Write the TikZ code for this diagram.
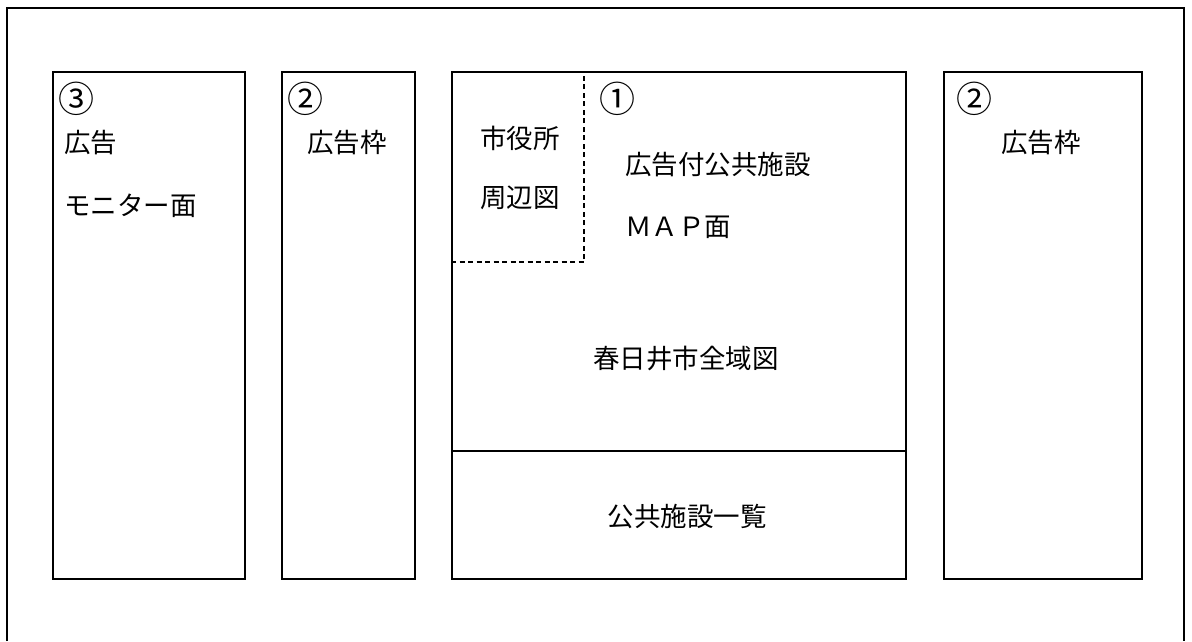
\documentclass[tikz,border=0pt]{standalone}
\usepackage{fontspec}
\newfontfamily\jpfont{Noto Sans CJK JP}
\tikzset{
  panel/.style={draw, line width=2pt, anchor=north west, inner sep=0pt},
  panellabel/.style={font=\jpfont\fontsize{26.5}{30}\selectfont, inner sep=0pt},
  numlabel/.style={font=\jpfont\fontsize{36}{40}\selectfont, inner sep=0pt, anchor=west},
  divline/.style={line width=2pt},
  insetline/.style={line width=1.8pt, dash pattern=on 5pt off 3.5pt}
}
\begin{document}
\begin{tikzpicture}[x=1pt, y=-1pt]
\useasboundingbox (0,0) rectangle (1192,641);

% outer frame, open at the bottom
\draw[line width=2pt] (7,641) -- (7,8) -- (1184,8) -- (1184,641);

% the four panels
\foreach \n/\xa/\w in {mon/52/192, adl/281/133, map/451/454, adr/943/198}
  \node[panel, minimum width=\w pt, minimum height=507pt, name=\n] at (\xa,71) {};

% map panel: list strip and city hall inset
\coordinate (div) at (451,451);
\draw[divline] (div) -- (div -| map.east);
\coordinate (inset) at (584,262);
\draw[insetline] (map.west |- inset) -- (inset) -- (inset |- map.north);

% texts
\node[numlabel] (mon-no) at (58,99) {③};
\node[panellabel, anchor=west] (mon-a) at (64,143) {広告};
\node[panellabel, anchor=west] (mon-b) at (64,206) {モニター面};

\node[numlabel] (adl-no) at (287,99) {②};
\node[panellabel] (adl-a) at (347,143) {広告枠};

\node[numlabel] (map-no) at (599,99) {①};
\node[panellabel] (hall-a) at (520,138) {市役所};
\node[panellabel] (hall-b) at (520,198) {周辺図};
\node[panellabel, anchor=west] (map-a) at (625,165) {広告付公共施設};
\node[panellabel, anchor=west] (map-b) at (625,227) {ＭＡＰ面};
\node[panellabel] (city) at (686,358) {春日井市全域図};
\node[panellabel] (list) at (687,516) {公共施設一覧};

\node[numlabel] (adr-no) at (956,99) {②};
\node[panellabel] (adr-a) at (1041,143) {広告枠};
\end{tikzpicture}
\end{document}
